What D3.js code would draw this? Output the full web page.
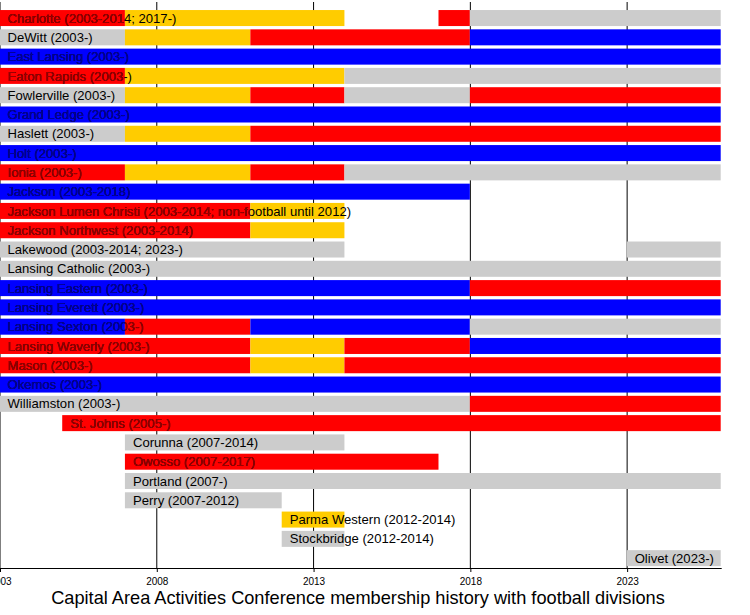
<!DOCTYPE html>
<html>
<head>
<meta charset="utf-8">
<script src="https://cdn.jsdelivr.net/npm/d3@7"></script>
<style>
  body { margin: 0; background: #fff; }
  svg { display: block; font-family: "Liberation Sans", Arial, sans-serif; }
</style>
</head>
<body>
<div id="chart"></div>
<script>
// membership rows, top to bottom
const schools = [
  "Charlotte (2003-2014; 2017-)", "DeWitt (2003-)", "East Lansing (2003-)",
  "Eaton Rapids (2003-)", "Fowlerville (2003-)", "Grand Ledge (2003-)",
  "Haslett (2003-)", "Holt (2003-)", "Ionia (2003-)", "Jackson (2003-2018)",
  "Jackson Lumen Christi (2003-2014; non-football until 2012)",
  "Jackson Northwest (2003-2014)", "Lakewood (2003-2014; 2023-)",
  "Lansing Catholic (2003-)", "Lansing Eastern (2003-)", "Lansing Everett (2003-)",
  "Lansing Sexton (2003-)", "Lansing Waverly (2003-)", "Mason (2003-)",
  "Okemos (2003-)", "Williamston (2003-)", "St. Johns (2005-)",
  "Corunna (2007-2014)", "Owosso (2007-2017)", "Portland (2007-)",
  "Perry (2007-2012)", "Parma Western (2012-2014)", "Stockbridge (2012-2014)",
  "Olivet (2023-)"
];

// football division per period: r = red, y = yellow, b = blue, g = gray
const divisionColor = { r: "#ff0000", y: "#ffcc00", b: "#0000ff", g: "#cccccc" };
const textColor = { r: "#990000", b: "#000099" };

// [row, from, to, division]
const segments = [
  [0, 2003, 2007, "r"], [0, 2007, 2014, "y"], [0, 2017, 2018, "r"], [0, 2018, 2026, "g"],
  [1, 2003, 2007, "g"], [1, 2007, 2011, "y"], [1, 2011, 2018, "r"], [1, 2018, 2026, "b"],
  [2, 2003, 2026, "b"],
  [3, 2003, 2007, "r"], [3, 2007, 2014, "y"], [3, 2014, 2026, "g"],
  [4, 2003, 2007, "g"], [4, 2007, 2011, "y"], [4, 2011, 2014, "r"], [4, 2014, 2018, "g"], [4, 2018, 2026, "r"],
  [5, 2003, 2026, "b"],
  [6, 2003, 2007, "g"], [6, 2007, 2011, "y"], [6, 2011, 2026, "r"],
  [7, 2003, 2026, "b"],
  [8, 2003, 2007, "r"], [8, 2007, 2011, "y"], [8, 2011, 2014, "r"], [8, 2014, 2026, "g"],
  [9, 2003, 2018, "b"],
  [10, 2003, 2011, "r"], [10, 2011, 2014, "y"],
  [11, 2003, 2011, "r"], [11, 2011, 2014, "y"],
  [12, 2003, 2014, "g"], [12, 2023, 2026, "g"],
  [13, 2003, 2026, "g"],
  [14, 2003, 2018, "b"], [14, 2018, 2026, "r"],
  [15, 2003, 2026, "b"],
  [16, 2003, 2007, "b"], [16, 2007, 2011, "r"], [16, 2011, 2018, "b"], [16, 2018, 2026, "g"],
  [17, 2003, 2011, "r"], [17, 2011, 2014, "y"], [17, 2014, 2018, "r"], [17, 2018, 2026, "b"],
  [18, 2003, 2011, "r"], [18, 2011, 2014, "y"], [18, 2014, 2026, "r"],
  [19, 2003, 2026, "b"],
  [20, 2003, 2018, "g"], [20, 2018, 2026, "r"],
  [21, 2005, 2026, "r"],
  [22, 2007, 2014, "g"],
  [23, 2007, 2017, "r"],
  [24, 2007, 2026, "g"],
  [25, 2007, 2012, "g"],
  [26, 2012, 2014, "y"],
  [27, 2012, 2014, "g"],
  [28, 2023, 2026, "g"]
];

const tickYears = [2003, 2008, 2013, 2018, 2023];
const title = "Capital Area Activities Conference membership history with football divisions";

const width = 750, height = 615;
const axisY = 568;

const x = d3.scaleLinear().domain([2003, 2026]).range([-0.5, 720.7]);
const y = d3.scaleBand()
  .domain(d3.range(schools.length))
  .range([8.4, 567.8])
  .paddingInner(0.17)
  .paddingOuter(0.085);

const svg = d3.select("#chart").append("svg")
  .attr("width", width)
  .attr("height", height);

// vertical grid lines behind the bars
svg.append("g")
  .selectAll("line")
  .data(tickYears)
  .join("line")
  .attr("x1", d => x(d) + 0.5).attr("x2", d => x(d) + 0.5)
  .attr("y1", 2).attr("y2", axisY)
  .attr("stroke", "#000").attr("stroke-width", 1);

const rows = d3.group(segments, d => d[0]);

svg.append("g")
  .selectAll("rect")
  .data(segments)
  .join("rect")
  .attr("x", d => x(d[1]))
  .attr("y", d => y(d[0]))
  .attr("width", d => x(d[2]) - x(d[1]))
  .attr("height", y.bandwidth())
  .attr("fill", d => divisionColor[d[3]]);

// labels: black, with darker copies clipped to red and blue periods
const defs = svg.append("defs");
const labels = svg.append("g").attr("font-size", 13.1);

schools.forEach((name, i) => {
  const segs = rows.get(i);
  const startYear = d3.min(segs, d => d[1]);
  const lx = x(startYear) + 8;
  const ly = y(i) + y.bandwidth() / 2 + 4.6;
  labels.append("text").attr("x", lx).attr("y", ly).attr("fill", "#000").text(name);
  segs.filter(d => textColor[d[3]]).forEach((d, k) => {
    const id = `clip-${i}-${k}`;
    defs.append("clipPath").attr("id", id)
      .append("rect")
      .attr("x", x(d[1])).attr("y", y(i))
      .attr("width", x(d[2]) - x(d[1])).attr("height", y.bandwidth());
    labels.append("text")
      .attr("x", lx).attr("y", ly)
      .attr("fill", textColor[d[3]])
      .attr("clip-path", `url(#${id})`)
      .text(name);
  });
});

// axis
const xAxis = d3.axisBottom(x)
  .tickValues(tickYears)
  .tickFormat(d3.format("d"))
  .tickSize(4)
  .tickSizeOuter(0);

svg.append("g")
  .attr("transform", `translate(0.5, ${axisY})`)
  .call(xAxis)
  .call(g => g.select(".domain").attr("stroke-width", 1.2))
  .call(g => g.selectAll(".tick text")
    .attr("font-size", 10)
    .attr("font-family", "Liberation Sans, Arial, sans-serif")
    .attr("dy", "0.95em"));

svg.append("text")
  .attr("x", 358)
  .attr("y", 604)
  .attr("text-anchor", "middle")
  .attr("font-size", 18.2)
  .attr("fill", "#000")
  .text(title);
</script>
</body>
</html>
